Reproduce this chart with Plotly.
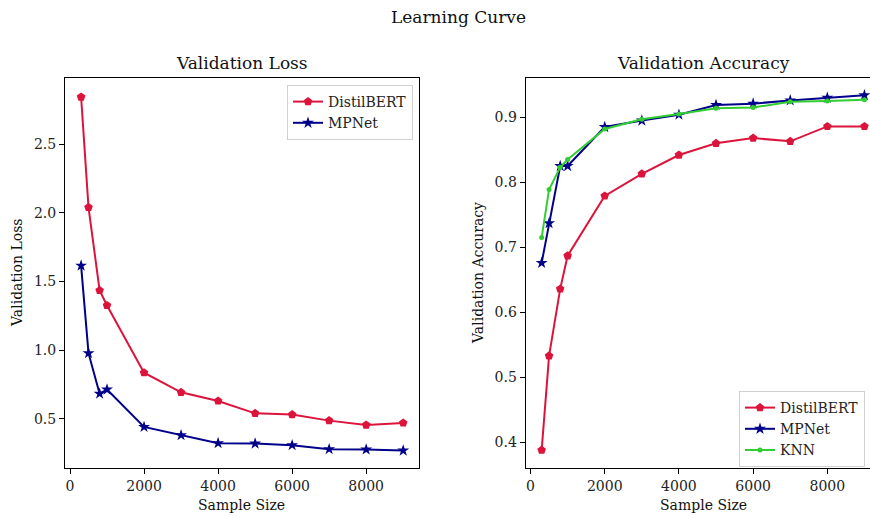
import plotly.graph_objects as go

# Training set sizes used for the learning curve
sample_sizes = [300, 500, 800, 1000, 2000, 3000, 4000, 5000, 6000, 7000, 8000, 9000]

# Validation loss per model
loss_distilbert = [2.843, 2.040, 1.435, 1.326, 0.837, 0.694, 0.631, 0.541, 0.532, 0.488, 0.456, 0.471]
loss_mpnet = [1.616, 0.979, 0.684, 0.714, 0.442, 0.382, 0.324, 0.321, 0.309, 0.280, 0.278, 0.270]

# Validation accuracy per model
acc_distilbert = [0.388, 0.533, 0.636, 0.687, 0.779, 0.813, 0.842, 0.860, 0.868, 0.863, 0.886, 0.886]
acc_mpnet = [0.676, 0.737, 0.825, 0.825, 0.885, 0.895, 0.904, 0.919, 0.921, 0.926, 0.930, 0.934]
acc_knn = [0.715, 0.789, 0.823, 0.835, 0.882, 0.897, 0.905, 0.914, 0.915, 0.924, 0.925, 0.927]

loss_ticks = [0.5, 1.0, 1.5, 2.0, 2.5]
acc_ticks = [0.4, 0.5, 0.6, 0.7, 0.8, 0.9]
x_ticks = [0, 2000, 4000, 6000, 8000]

W, H = 870, 516
FONT = "DejaVu Serif"
RED, BLUE, GREEN = "#DC143C", "#00008B", "#32CD32"


def px_x(v):
    return v / W


def px_y(v):
    return 1 - v / H


fig = go.Figure()

line_w = 2
pent = dict(symbol="pentagon", size=9)
star = dict(symbol="star", size=9)
dot = dict(symbol="circle", size=5)

fig.add_trace(go.Scatter(x=sample_sizes, y=loss_distilbert, name="DistilBERT", mode="lines+markers",
                         line=dict(color=RED, width=line_w), marker=dict(color=RED, **pent),
                         xaxis="x", yaxis="y", legend="legend"))
fig.add_trace(go.Scatter(x=sample_sizes, y=loss_mpnet, name="MPNet", mode="lines+markers",
                         line=dict(color=BLUE, width=line_w), marker=dict(color=BLUE, **star),
                         xaxis="x", yaxis="y", legend="legend"))

fig.add_trace(go.Scatter(x=sample_sizes, y=acc_distilbert, name="DistilBERT", mode="lines+markers",
                         line=dict(color=RED, width=line_w), marker=dict(color=RED, **pent),
                         xaxis="x2", yaxis="y2", legend="legend2"))
fig.add_trace(go.Scatter(x=sample_sizes, y=acc_mpnet, name="MPNet", mode="lines+markers",
                         line=dict(color=BLUE, width=line_w), marker=dict(color=BLUE, **star),
                         xaxis="x2", yaxis="y2", legend="legend2"))
fig.add_trace(go.Scatter(x=sample_sizes, y=acc_knn, name="KNN", mode="lines+markers",
                         line=dict(color=GREEN, width=line_w), marker=dict(color=GREEN, **dot),
                         xaxis="x2", yaxis="y2", legend="legend2"))

axis_common = dict(showgrid=False, zeroline=False, showline=True, linecolor="black", linewidth=1.1,
                   ticks="outside", ticklen=5, tickwidth=1.1, tickcolor="black",
                   tickfont=dict(family=FONT, size=14, color="#222"))

legend_font = dict(family=FONT, size=14, color="#222")

y_top, y_bot = 78.3, 468.3
fig.update_layout(
    width=W, height=H,
    margin=dict(l=0, r=0, t=0, b=0),
    paper_bgcolor="white", plot_bgcolor="white",
    font=dict(family=FONT, size=14, color="#222"),
    xaxis=dict(domain=[px_x(65), px_x(419.3)], range=[-135, 9435], tickvals=x_ticks,
               mirror=True, anchor="y", **axis_common),
    yaxis=dict(domain=[px_y(y_bot), px_y(y_top)], range=[0.141, 2.979], tickvals=loss_ticks,
               ticktext=[f"{t:.1f}" for t in loss_ticks], mirror=True, anchor="x", **axis_common),
    xaxis2=dict(domain=[px_x(525.7), 1.0], range=[-130, 9150], tickvals=x_ticks,
                mirror=True, anchor="y2", **axis_common),
    yaxis2=dict(domain=[px_y(y_bot), px_y(y_top)], range=[0.360, 0.960], tickvals=acc_ticks,
                ticktext=[f"{t:.1f}" for t in acc_ticks], anchor="x2", **axis_common),
    legend=dict(x=px_x(413), y=px_y(85), xanchor="right", yanchor="top",
                bgcolor="rgba(255,255,255,0.8)", bordercolor="#d0d0d0", borderwidth=1,
                font=legend_font, tracegroupgap=0),
    legend2=dict(x=px_x(739), y=px_y(391), xanchor="left", yanchor="top",
                 bgcolor="rgba(255,255,255,0.8)", bordercolor="#d0d0d0", borderwidth=1,
                 font=legend_font, tracegroupgap=0),
    showlegend=True,
)

annotations = [
    dict(text="Learning Curve", x=px_x(458), y=px_y(17), size=17),
    dict(text="Validation Loss", x=px_x(242), y=px_y(63), size=17),
    dict(text="Validation Accuracy", x=px_x(703), y=px_y(63), size=17),
    dict(text="Sample Size", x=px_x(242), y=px_y(505), size=14),
    dict(text="Sample Size", x=px_x(703), y=px_y(505), size=14),
    dict(text="Validation Loss", x=px_x(17), y=px_y(273), size=14, angle=-90),
    dict(text="Validation Accuracy", x=px_x(478), y=px_y(273), size=14, angle=-90),
]
for a in annotations:
    fig.add_annotation(text=a["text"], x=a["x"], y=a["y"], xref="paper", yref="paper",
                       xanchor="center", yanchor="middle", showarrow=False,
                       textangle=a.get("angle", 0),
                       font=dict(family=FONT, size=a["size"], color="#111"))

fig.write_html("out.html")
